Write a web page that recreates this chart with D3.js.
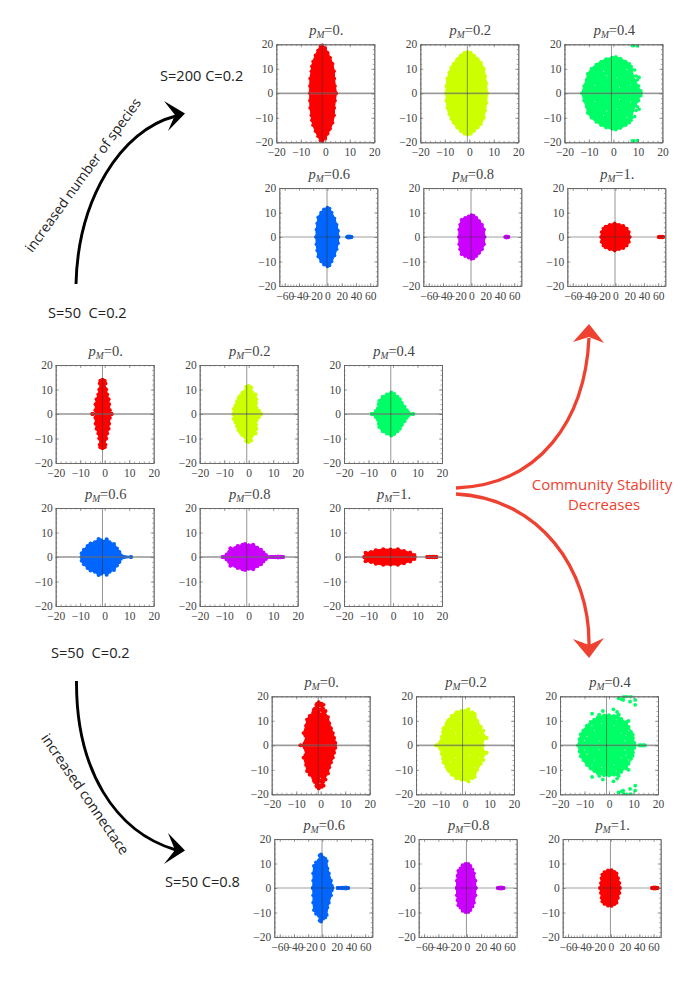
<!DOCTYPE html>
<html><head><meta charset="utf-8">
<script src="https://cdn.jsdelivr.net/npm/d3@7"></script>
<style>html,body{margin:0;padding:0;background:#fff}svg{display:block}text{white-space:pre}</style>
</head><body><svg id="c" width="698" height="987"></svg>
<script>
// Eigenvalue clouds. Spectra are conjugate-symmetric, so only the upper half is listed.
// edge = upper boundary of the dense cloud, left to right; extra = separate points; gaps = visible holes.
const titles = ["0.","0.2","0.4","0.6","0.8","1."];
const hues = ["#ff0000","#ccff00","#00ff66","#0066ff","#cc00ff","#ff0000"];
const ticksNarrow = [-20,-10,0,10,20];
const ticksWide = [-60,-40,-20,0,20,40,60];
const ticksY = [-20,-10,0,10,20];

const s200_p0_edge=[[-6.3,0],[-6.3,3],[-6.2,6],[-5.7,9],[-5.5,11],[-5,13],[-4,15.5],[-3,17.5],[-2,19.3],[-1.2,19.7],[0,18.5],[1,16.5],[2,14.5],[3,12],[3.6,9],[3.7,6],[4,3],[4.5,0]];
const s200_p2_edge=[[-9.5,0],[-9.4,3],[-9,6],[-8.2,8.5],[-7.4,10.5],[-6.5,12],[-5,14],[-3.5,15.5],[-2,16.6],[-0.7,16.9],[0.6,16.6],[2,15.4],[3.5,14],[4.8,12.5],[6,10],[6.5,7],[7,4],[7.3,0]];
const s200_p4_edge=[[-12.8,0],[-12,3],[-11,5.5],[-10.5,8],[-9,10],[-7,11.7],[-5,13],[-3,14],[-0.5,14.6],[1,14.9],[3,14],[5,13],[6.5,12],[7.5,10],[8,7],[9,5],[10,3],[11.3,0]];
const s200_p4_extra=[[7.7,19.4],[8.4,19.4],[9.8,19.3],[2.8,14.2],[7.2,11],[9.3,7],[9.8,5.5],[10.3,3],[8.7,9.5],[10.5,6.5],[11.2,1]];
const s200_p4_gaps=[[-2.7,7.2],[1.4,6.3],[-7.5,3.3],[5.5,9.8],[7,3.5],[-4,9],[2.5,2.5]];
const s200_p6_edge=[[-16,0],[-15.5,3],[-14.5,5.5],[-13,8],[-9,10],[-5,11.3],[0,12],[3,11.6],[6,10],[10,7.5],[13,5],[15,2.5],[15.5,0]];
const s200_p6_extra=[[27.5,0],[29,0.3],[31,0.3],[33,0.2],[34,0]];
const s200_p8_edge=[[-17.5,0],[-17.3,3],[-16,5],[-14,7],[-9,7.8],[-4,8.5],[0,9],[3,8.8],[7,7.8],[11,6.5],[15,5],[17.8,3],[18.5,0]];
const s200_p8_extra=[[47.5,0],[49,0.3],[51,0.2],[52,0]];
const s200_p10_edge=[[-20,0],[-19.5,2],[-17,3.5],[-14,4.3],[-8,5],[-1,5.6],[5,5],[11,4.6],[16,3.5],[19,2],[20,0]];
const s200_p10_extra=[[60.5,0],[62,0.2],[64,0.2],[66,0.2],[67.5,0]];

const base_p0_edge=[[-5,0],[-3,0.7],[-3.8,1.5],[-3.7,4],[-3.3,6],[-2.6,8],[-2.2,10],[-1.5,10.8],[-1.4,11.5],[-2,12.5],[-1.8,13.6],[-0.9,14],[0,13.6],[0.3,12.5],[-0.4,11.5],[-0.1,10.8],[0.6,10],[1,8],[1.6,6],[1.8,4],[2.1,1.5],[1.5,0.7],[2.8,0]];
const base_p2_edge=[[-6.2,0],[-6.1,2],[-5.4,3.5],[-4.8,5],[-4.2,6.5],[-3.4,7.5],[-2.6,8.7],[-1.4,9.5],[-1,11],[0,11.4],[1,10.8],[1.3,9],[2.8,8],[3.1,6],[3,4.5],[3.2,2.5],[4.2,1.2],[5,0]];
const base_p4_edge=[[-8.6,0],[-7,1.2],[-6.2,2.2],[-5.8,4],[-5.6,5.3],[-4.6,5.9],[-4.2,7],[-2.5,8],[-0.7,8.8],[0.5,8.2],[1.8,7],[2.8,6],[3.6,4.5],[4.7,3],[5.6,1.5],[6.3,0.6],[8.2,0]];
const base_p6_edge=[[-9.4,0],[-9.4,1.5],[-8.5,3],[-7,4.5],[-5.8,5.5],[-4,6],[-2.5,7.3],[-1.5,6.8],[-0.5,6.2],[0.8,7.2],[2,6],[3.8,5.3],[5,3.5],[6,2],[6.6,0.7],[10.7,0]];
const base_p8_edge=[[-10.6,0],[-9,1],[-8,2],[-7.5,3.6],[-5.5,3.7],[-4.5,4.5],[-2.5,5],[-1.5,5.3],[0,4.8],[1.8,5],[3.5,3.8],[5,3],[6,1.8],[7,0.8],[9,0]];
const base_p8_extra=[[10,0],[11,0.1],[12,0.2],[13,0.1],[14,0]];
const base_p10_edge=[[-11.7,0],[-11.2,1.7],[-9,2],[-7,2.8],[-4,3.2],[-1,3.1],[2,3.2],[4.5,2.5],[7,1.8],[8.7,0.8],[8.8,0]];
const base_p10_extra=[[14,0],[15,0.1],[16,0.1],[17,0.1],[17.7,0]];

const c8_p0_edge=[[-8.3,0],[-6.5,1],[-6,2],[-6.3,4],[-7,5],[-6,8],[-5.6,10.5],[-4.5,12],[-3,13.5],[-2.4,15],[-1.8,16.5],[-0.8,17.6],[0.4,17],[1,15],[1.5,13.5],[3,11.5],[3.5,9],[4.2,7],[5,5],[5.5,3],[6,1],[5.8,0]];
const c8_p0_extra=[[-1.5,17],[1.2,16.5],[2,14],[-2.8,14.5]];
const c8_p0_gaps=[[-0.3,15.5],[0,13.5]];
const c8_p2_edge=[[-11.8,0],[-10,1.5],[-9.5,3.5],[-9,5.5],[-8.8,7],[-7.5,9],[-6.5,10.5],[-5.5,12],[-3.5,13.5],[-1.5,14],[0,14],[1.2,14.5],[3,12.5],[4,12.8],[5,10],[6.5,7.5],[7,5],[7.6,4],[8.8,3],[7,1.5],[7.3,0]];
const c8_p2_extra=[[1.5,14.8],[3,13.5],[7.5,6],[8.8,3],[-7,10]];
const c8_p2_gaps=[[-6,7],[-2,10],[4,9],[6,5],[5,11],[-4,5],[2,4]];
const c8_p4_edge=[[-12.6,0],[-12,2.5],[-11.5,4.5],[-10.5,6],[-9,8],[-7.5,9.5],[-6,10.5],[-4.5,11.5],[-2,12.2],[0,12.3],[2,12],[3.5,12],[5,10.8],[7,9],[8,7.5],[9,5.5],[9.8,3],[10.3,1],[10.5,0]];
const c8_p4_extra=[[12.4,0],[13,0.1],[14,0.1],[14.6,0],[-9.8,6.3],[-6.9,12.9],[-4,12.5],[-2.5,14],[1.8,14.7],[3.3,13.6],[4,12.5],[7.2,9.5],[9.7,4.3],[3.9,19.2],[5.2,18.8],[6,19.8],[7.2,20],[8.9,19.9],[8.6,17.8],[10.7,18.5],[10.7,16.5],[5.8,18.5],[8,10]];
const c8_p4_gaps=[[-9,3.5],[-6,6],[-3,9],[5,5],[7,4],[8,6],[2,8],[-7,8],[3,10.5],[-4,1.8],[6.5,1.8],[-10,2]];
const c8_p6_edge=[[-13.6,0],[-13,3],[-13,6],[-12,9],[-9,10.5],[-5,11.3],[-3,12],[-4,13.3],[-2,13.7],[1,12.5],[4,12],[6,11],[7,8],[9,6],[12,3],[13,1],[14,0]];
const c8_p6_extra=[[21.5,0],[24,0],[27,0.1],[30,0.1],[33,0.2],[36,0]];
const c8_p8_edge=[[-14.3,0],[-14,3],[-13,5],[-12,7],[-9,8],[-6,9.3],[-2,9.8],[2,9.8],[5,9],[8,7.5],[10,6],[12,3],[12.5,0]];
const c8_p8_extra=[[43.5,0],[46,0.2],[49,0.2],[51.5,0]];
const c8_p10_edge=[[-15,0],[-14,2],[-13,4],[-12,5.5],[-9,6.5],[-4,7.2],[1,7.3],[5,6.6],[8,6],[10,4],[12,2],[12.5,0]];
const c8_p10_extra=[[58,0],[60,0.2],[63,0.2],[65.5,0]];

// layout
const narrowDomain=[-20,20], wideDomain=[-67.6,70];
const frameW=98, frameH=98;
const svg=d3.select("#c");

function panel(o){
  const g=svg.append("g").attr("transform",`translate(${o.x},${o.y})`);
  const xs=d3.scaleLinear().domain(o.wide?wideDomain:narrowDomain).range([0,frameW]);
  const ys=d3.scaleLinear().domain([-20,20]).range([frameH,0]);
  const mirror=a=>a.map(d=>[d[0],-d[1]]);
  const ring=o.edge.concat(mirror(o.edge).reverse());
  const line=d3.line().x(d=>xs(d[0])).y(d=>ys(d[1])).curve(d3.curveLinearClosed);
  const clipId="clip"+o.id;
  g.append("clipPath").attr("id",clipId).append("rect").attr("x",-1).attr("y",-1).attr("width",frameW+2).attr("height",frameH+2);
  const cloud=g.append("g").attr("clip-path",`url(#${clipId})`);
  cloud.append("path").attr("d",line(ring)).attr("fill",o.color).attr("stroke",o.color).attr("stroke-width",1.5);
  const pts=ring.concat(o.extra||[],mirror(o.extra||[]));
  cloud.selectAll("circle.p").data(pts).join("circle").attr("class","p")
    .attr("cx",d=>xs(d[0])).attr("cy",d=>ys(d[1])).attr("r",o.r).attr("fill",o.color);
  const gaps=(o.gaps||[]).concat(mirror(o.gaps||[]));
  cloud.selectAll("circle.h").data(gaps).join("circle").attr("class","h")
    .attr("cx",d=>xs(d[0])).attr("cy",d=>ys(d[1])).attr("r",0.6).attr("fill","#fff").attr("opacity",.75);

  // Axes through the origin
  const ax=o.wide?-0.6:o.axisX;
  if(!o.wide) g.append("line").attr("x1",0).attr("x2",frameW).attr("y1",ys(0)).attr("y2",ys(0)).attr("stroke","#999").attr("stroke-opacity",.4).attr("stroke-width",2.2);
  g.append("line").attr("x1",0).attr("x2",frameW).attr("y1",ys(0)).attr("y2",ys(0)).attr("stroke","#333").attr("stroke-opacity",.6).attr("stroke-width",.8);
  g.append("line").attr("x1",xs(ax)).attr("x2",xs(ax)).attr("y1",0).attr("y2",frameH).attr("stroke","#333").attr("stroke-opacity",.65).attr("stroke-width",.8);

  // Frame ticks
  const xT=o.wide?ticksWide:ticksNarrow;
  const minorX=o.wide?d3.range(-64,70,4):d3.range(-20,21,2);
  const minorY=d3.range(-20,21,2);
  const style=s=>{s.selectAll("path.domain").attr("stroke","#666").attr("stroke-width",.8);
    s.selectAll("line").attr("stroke","#666").attr("stroke-width",.6);
    s.selectAll("text").attr("font-family","'Liberation Serif',serif").attr("font-size",11.5).attr("fill","#444");};
  const add=(gen,tr)=>{const s=g.append("g").attr("transform",tr).call(gen);style(s);return s;};
  add(d3.axisBottom(xs).tickValues(minorX).tickSize(-1.5).tickSizeOuter(0).tickFormat(""),`translate(0,${frameH})`);
  add(d3.axisTop(xs).tickValues(minorX).tickSize(-1.5).tickSizeOuter(0).tickFormat(""),"translate(0,0)");
  add(d3.axisLeft(ys).tickValues(minorY).tickSize(-1.5).tickSizeOuter(0).tickFormat(""),"translate(0,0)");
  add(d3.axisRight(ys).tickValues(minorY).tickSize(-1.5).tickSizeOuter(0).tickFormat(""),`translate(${frameW},0)`);
  add(d3.axisBottom(xs).tickValues(xT).tickSize(-3).tickSizeOuter(0).tickPadding(6),`translate(0,${frameH})`);
  add(d3.axisTop(xs).tickValues(xT).tickSize(-3).tickSizeOuter(0).tickFormat(""),"translate(0,0)");
  add(d3.axisLeft(ys).tickValues(ticksY).tickSize(-3).tickSizeOuter(0).tickPadding(3),"translate(0,0)");
  add(d3.axisRight(ys).tickValues(ticksY).tickSize(-3).tickSizeOuter(0).tickFormat(""),`translate(${frameW},0)`);

  // Title: p subscript M = value
  const t=g.append("text").attr("x",frameW/2+1).attr("y",-9).attr("text-anchor","middle")
    .attr("font-family","'Liberation Serif',serif").attr("font-size",14.5).attr("fill","#444");
  t.append("tspan").attr("font-style","italic").text("p");
  t.append("tspan").attr("font-style","italic").attr("font-size",9.5).attr("dy",2.5).text("M");
  t.append("tspan").attr("dy",-2.5).text("="+o.title);
}

const groups=[
 {frames:[[276.3,44.3],[420.3,44.3],[564.4,44.3],[279.3,188],[423.3,188],[567.3,188]],r:1.8,axis:[-1.3,-0.8,-0.8],
  edges:[s200_p0_edge,s200_p2_edge,s200_p4_edge,s200_p6_edge,s200_p8_edge,s200_p10_edge],
  extras:[null,null,s200_p4_extra,s200_p6_extra,s200_p8_extra,s200_p10_extra],
  holes:[null,null,s200_p4_gaps,null,null,null]},
 {frames:[[55.7,365],[199.7,365],[344,365],[55.7,508],[199.7,508],[344,508]],r:2,axis:[-0.9,-0.8,-0.9,-0.9,-0.8,-0.9],
  edges:[base_p0_edge,base_p2_edge,base_p4_edge,base_p6_edge,base_p8_edge,base_p10_edge],
  extras:[null,null,null,null,base_p8_extra,base_p10_extra],
  holes:[null,null,null,null,null,null]},
 {frames:[[271.7,696.3],[416,696.3],[560,696.3],[274.3,839],[418.7,839],[562.7,839]],r:1.9,axis:[-1,-1,-1],
  edges:[c8_p0_edge,c8_p2_edge,c8_p4_edge,c8_p6_edge,c8_p8_edge,c8_p10_edge],
  extras:[c8_p0_extra,c8_p2_extra,c8_p4_extra,c8_p6_extra,c8_p8_extra,c8_p10_extra],
  holes:[c8_p0_gaps,c8_p2_gaps,c8_p4_gaps,null,null,null]}
];
groups.forEach((G,gi)=>G.frames.forEach((f,i)=>panel({
  id:gi+"_"+i,x:f[0],y:f[1],edge:G.edges[i],extra:G.extras[i],gaps:G.holes[i],
  color:hues[i],title:titles[i],r:G.r,wide:gi!==1&&i>=3,axisX:G.axis[i]
})));

// Annotation arrows
function arrow(d,head,col,w){
  svg.append("path").attr("d",d).attr("fill","none").attr("stroke",col).attr("stroke-width",w);
  svg.append("path").attr("d",d3.line()(head)+"Z").attr("fill",col);
}
arrow("M76,284C78,200 120,130 176,116",[[185,113.5],[164,101],[175,115],[168,131]],"#000",2.9);
arrow("M76.5,681C76,770 115,832 176,850",[[185,850.5],[168,833],[175,850],[164,864]],"#000",2.9);
arrow("M456,488C540,485 585,420 589,338",[[589,324],[573,342],[589,337],[604,343]],"#ef4130",3.3);
arrow("M456,494C540,498 590,570 589,645",[[589,658],[573,639],[589,645],[604,638]],"#ef4130",3.3);

// Labels
const sans="'Open Sans',sans-serif";
const label=(x,y,s,anchor="start",fill="#222",size=14.6,rot=0)=>svg.append("text")
  .attr("transform",`translate(${x},${y}) rotate(${rot})`).attr("text-anchor",anchor)
  .attr("font-family",sans).attr("font-size",size).attr("fill",fill).text(s);
label(160,81,"S=200 C=0.2");
label(48,318,"S=50  C=0.2");
label(51,658,"S=50  C=0.2");
label(165,887,"S=50 C=0.8");
label(602,490,"Community Stability","middle","#ef4130",15);
label(604,510,"Decreases","middle","#ef4130",15);
label(87,178,"increased number of species","middle","#222",13.9,-54);
label(81,797,"increased connectace","middle","#222",14.2,55.5);
</script></body></html>
